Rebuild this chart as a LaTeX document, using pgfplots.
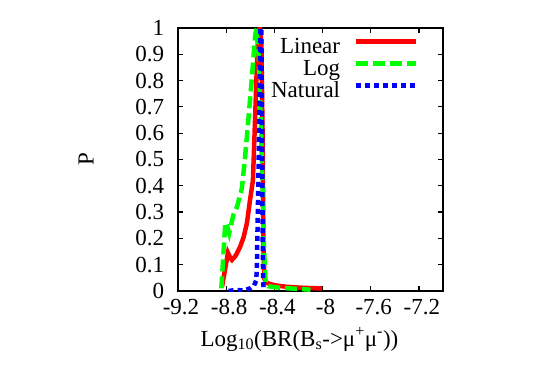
\documentclass[border=0pt]{standalone}
\usepackage{fontspec}
\setmainfont{Liberation Serif}
\usepackage{pgfplots}
\pgfplotsset{compat=1.18}
\definecolor{gred}{RGB}{255,0,0}
\definecolor{ggreen}{RGB}{0,255,0}
\definecolor{gblue}{RGB}{0,0,255}
\newcommand\ff{\fontsize{23}{27}\selectfont}
\begin{document}
\ff
\begin{tikzpicture}
\path[use as bounding box] (-178pt,-91pt) rectangle (367pt,291pt);
\begin{axis}[
  at={(0pt,0pt)}, anchor=south west,
  scale only axis, width=265pt, height=263pt,
  xmin=-9.2, xmax=-7.0, ymin=0, ymax=1,
  xtick={-9.2,-8.8,-8.4,-8,-7.6,-7.2},
  xticklabels={-9.2,-8.8,-8.4,-8,-7.6,-7.2},
  ytick={0,0.1,0.2,0.3,0.4,0.5,0.6,0.7,0.8,0.9,1},
  yticklabels={0,0.1,0.2,0.3,0.4,0.5,0.6,0.7,0.8,0.9,1},
  tick label style={font=\ff},
  xticklabel style={xshift=3pt},
  yticklabel style={xshift=-6pt},
  tick align=inside, tick pos=both,
  major tick length=5pt,
  every tick/.style={black, line width=1.2pt},
  axis line style={line width=1.5pt},
  xlabel={Log\textsubscript{10}(BR(B\textsubscript{s}->μ\textsuperscript{+}μ\textsuperscript{-}))},
  ylabel={P},
  xlabel style={font=\ff, at={(axis description cs:0.5,0)}, anchor=base, yshift=-55pt, xshift=-11pt},
  ylabel style={font=\ff, at={(axis description cs:-0.347,0.5)}, anchor=center},
  legend plot pos=right,
  legend cell align=right,
  legend style={draw=none, fill=none, font=\ff, at={(axis description cs:0.92,0.975)}, anchor=north east,
    nodes={inner sep=0.5pt, text height=16pt, text depth=5pt}, row sep=0pt, column sep=13pt},
  legend image code/.code={\draw[#1, line width=5pt] (0pt,6pt) -- (60pt,6pt);},
]
\addplot[gred, line width=4.5pt] coordinates {
(-8.835,0.015) (-8.785,0.145) (-8.765,0.125) (-8.752,0.118) (-8.72,0.135) (-8.685,0.167)
(-8.655,0.205) (-8.627,0.26) (-8.602,0.346) (-8.578,0.42) (-8.562,0.63) (-8.548,0.82)
(-8.535,0.97) (-8.522,1.0) (-8.508,0.95) (-8.498,0.6) (-8.49,0.15) (-8.482,0.045)
(-8.46,0.03) (-8.4,0.022) (-8.3,0.016) (-8.2,0.013) (-8.1,0.011) (-8.005,0.01)
};
\addlegendentry{Linear}
\addplot[ggreen, line width=4.5pt, dash pattern=on 12pt off 5pt] coordinates {
(-8.84,0.01) (-8.81,0.24) (-8.8,0.26) (-8.775,0.22) (-8.74,0.29) (-8.71,0.32)
(-8.67,0.39) (-8.645,0.5) (-8.62,0.63) (-8.585,0.82) (-8.56,0.97) (-8.548,1.0)
(-8.53,0.9) (-8.51,0.6) (-8.5,0.42) (-8.485,0.15) (-8.472,0.03) (-8.45,0.018)
(-8.35,0.012) (-8.2,0.008) (-8.1,0.005)
};
\addlegendentry{Log}
\addplot[gblue, line width=4.5pt, dash pattern=on 5pt off 4pt] coordinates {
(-8.78,0.0) (-8.72,0.004) (-8.66,0.002) (-8.6,0.01) (-8.57,0.02) (-8.55,0.04)
(-8.545,0.1) (-8.54,0.23) (-8.535,0.36) (-8.53,0.5) (-8.522,0.8) (-8.516,1.0)
(-8.508,1.0) (-8.502,0.6) (-8.497,0.2) (-8.493,0.04) (-8.488,0.0)
};
\addlegendentry{Natural}
\end{axis}
\end{tikzpicture}
\end{document}
